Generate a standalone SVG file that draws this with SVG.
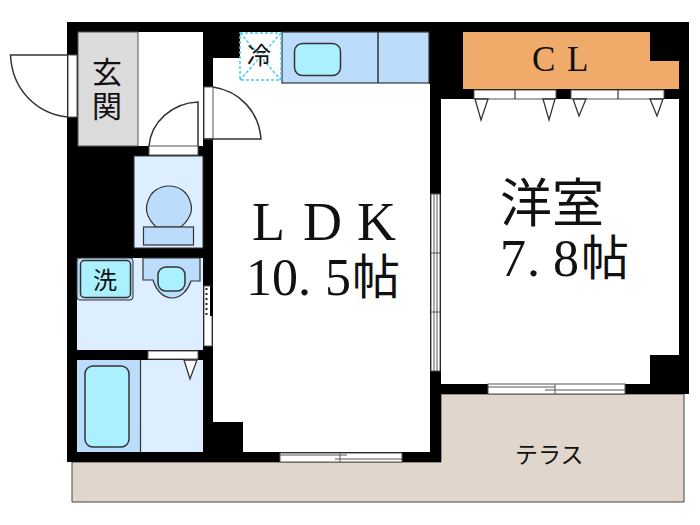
<svg xmlns="http://www.w3.org/2000/svg" width="700" height="525" viewBox="0 0 700 525">
<style>
.ln{fill:none;stroke:#333;stroke-width:1.5}
.rm{fill:#dceeff}
.bl{fill:#bcdcfc;stroke:#333;stroke-width:1.2}
.cy{fill:#aaf0ff;stroke:#333;stroke-width:1.5}
.op{fill:#fff;stroke:#555;stroke-width:1}
.tri{fill:#fff;stroke:#333;stroke-width:1.3}
.s{font-family:"Liberation Serif",serif;fill:#111}
.j{font-family:"Noto Sans CJK JP",sans-serif;fill:#111;font-weight:400}
</style>
<rect width="700" height="525" fill="#fff"/>
<g id="terrace">
<path d="M72 462H441V394H684V502H72Z" fill="#e0d6cc" stroke="#444" stroke-width="1"/>
</g>
<g id="walls">
<path d="M67 22H689V394H441V462H67Z" fill="#000"/>
</g>
<g id="rooms">
<path d="M240 32H429V84H430V452H243V422H213V58H240Z" fill="#fff"/>
<rect x="78" y="32" width="125" height="114" fill="#fff"/>
<rect x="78" y="32" width="60" height="114" fill="#dcdcdc" stroke="#555" stroke-width="1"/>
<path d="M441 99H679V355H650V384H441Z" fill="#fff"/>
<path d="M463 32H650V61H679V89H463Z" fill="#f0aa6a"/>
<rect class="rm" x="134" y="156" width="69" height="92" stroke="#333" stroke-width="1"/>
<rect class="rm" x="77" y="258" width="126" height="92"/>
<rect class="rm" x="141" y="360" width="62" height="92"/>
<rect x="77" y="360" width="63" height="92" fill="#bcdcfc"/>
<line x1="140.500" y1="360" x2="140.500" y2="452" stroke="#333" stroke-width="1.2"/>
</g>
<g id="kitchen">
<rect class="bl" x="282" y="32" width="147" height="51"/>
<line x1="378" y1="32" x2="378" y2="83" stroke="#333" stroke-width="1.5"/>
<rect class="cy" x="294.500" y="43.500" width="46" height="32" rx="8"/>
</g>
<g id="fridge">
<path d="M240 33H281V80H240Z M240 33L281 80M281 33L240 80" fill="none" stroke="#4cc8f0" stroke-width="1.500" stroke-dasharray="3 2"/>
</g>
<g id="toilet">
<path d="M156 227C146 217 145 208 148 201C151 191 160 186 169 186C178 186 187 191 190 201C193 208 192 217 181 227Z" class="bl"/>
<rect class="bl" x="143.500" y="227" width="50" height="18"/>
</g>
<g id="washroom">
<rect x="77" y="258" width="56" height="42" rx="3" fill="#bcdcfc" stroke="#333" stroke-width="1"/>
<rect class="cy" x="80.500" y="260.500" width="50" height="37" rx="4"/>
<path class="bl" d="M143 258V280H153C156 290 163 298 172 298C181 298 188 290 191 281H200V258Z"/>
<rect class="cy" x="158" y="267" width="27" height="24" rx="8"/>
</g>
<g id="bath">
<rect class="cy" x="85" y="366" width="44" height="81" rx="8"/>
<path class="tri" d="M184 360H197L190 379Z"/>
</g>
<g id="openings">
<rect class="op" x="68" y="55" width="9" height="62"/>
<rect class="op" x="204" y="87" width="9" height="52"/>
<rect class="op" x="149" y="146" width="49" height="9"/>
<rect class="op" x="148" y="351" width="50" height="8"/>
<rect class="op" x="204" y="286" width="8" height="60"/>
<rect x="210" y="286" width="3" height="30" fill="#000"/>
<line x1="206.500" y1="288" x2="206.500" y2="315" stroke="#222" stroke-width="2" stroke-dasharray="2 3"/>
<rect class="op" x="431" y="194" width="9" height="177"/>
<path d="M434 194V371M437 194V371M431 253H440M431 312H440" stroke="#555" stroke-width="1" fill="none"/>
<rect class="op" x="488" y="384" width="137" height="10"/>
<path d="M488 387H555M545 390H625M555 384V394" stroke="#555" stroke-width="1" fill="none"/>
<rect class="op" x="280" y="453" width="122" height="9"/>
<path d="M280 455H347M335 459H402M340 453V462" stroke="#555" stroke-width="1" fill="none"/>
<rect class="op" x="474" y="90" width="82" height="9"/>
<rect class="op" x="571" y="90" width="93" height="9"/>
<path d="M515 90V99M618 90V99" stroke="#333" stroke-width="1.2"/>
<path class="tri" d="M475 99H488L481 120Z"/>
<path class="tri" d="M543 99H555L549 120Z"/>
<path class="tri" d="M573 99H586L579 116Z"/>
<path class="tri" d="M650 99H663L657 116Z"/>
</g>
<g id="doors">
<path class="ln" d="M68 55H10.500C12 90 37 114 68 117"/>
<path class="ln" d="M213 87C240 91 259 112 261 139H204"/>
<path class="ln" d="M198 146V102C172 103 151 122 149 146"/>
</g>
<g id="labels">
<text class="j" font-size="30"><tspan x="92" y="83">玄</tspan><tspan x="92" y="117">関</tspan></text>
<text class="j" x="247" y="64" font-size="24">冷</text>
<text class="j" x="93" y="289" font-size="24">洗</text>
<text class="s" font-size="54"><tspan x="252" y="240">L</tspan><tspan x="303" y="240">D</tspan><tspan x="357" y="240">K</tspan><tspan x="246" y="295" font-size="52">10</tspan><tspan x="298" y="295" font-size="52">.</tspan><tspan x="325" y="295" font-size="52">5</tspan><tspan class="j" x="352" y="294" font-size="48">帖</tspan></text>
<text class="j" font-size="52"><tspan x="500" y="222">洋室</tspan><tspan class="s" x="500" y="276">7</tspan><tspan class="s" x="527" y="276">.</tspan><tspan class="s" x="553" y="276">8</tspan><tspan x="581" y="275" font-size="48">帖</tspan></text>
<text class="s" font-size="35"><tspan x="532" y="71">C</tspan><tspan x="567" y="71">L</tspan></text>
<text class="j" x="515" y="463" font-size="23">テラス</text>
</g>
</svg>
